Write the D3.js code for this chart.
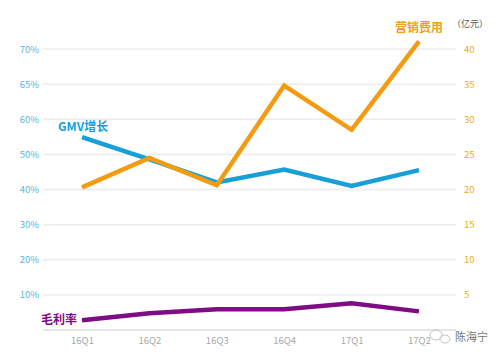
<!DOCTYPE html>
<html><head><meta charset="utf-8">
<script src="https://cdn.jsdelivr.net/npm/d3@7"></script>
<style>body{margin:0;background:#fff}svg{display:block}text{font-family:"Noto Sans CJK SC","Noto Sans",sans-serif}</style>
</head><body><svg id="c" width="504" height="357"></svg>
<script>
const categories = ["16Q1","16Q2","16Q3","16Q4","17Q1","17Q2"];
const gmvGrowth = [54.9, 48.6, 42.0, 45.7, 41.0, 45.5];      // %
const marketing = [20.3, 24.5, 20.6, 34.8, 28.5, 41.1];       // 亿元
const grossMargin = [2.8, 4.8, 5.9, 5.9, 7.6, 5.3];           // %
const leftTicks = [10, 20, 30, 40, 50, 60, 65, 70];
const rightTicks = [5, 10, 15, 20, 25, 30, 35, 40];

const svg = d3.select("#c");
const plotTop = 49, plotBottom = 330, plotLeft = 43, plotRight = 456;
const x = d3.scalePoint().domain(categories).range([82, 419]);
const yR = d3.scaleLinear().domain([0, 40]).range([plotBottom, plotTop]);
// left axis has uneven labels at even spacing
const yL = d3.scaleLinear().domain([0, 10, 20, 30, 40, 50, 60, 65, 70])
  .range([0, 5, 10, 15, 20, 25, 30, 35, 40].map(v => yR(v)));

// gridlines
svg.append("g").selectAll("line").data(rightTicks).join("line")
  .attr("x1", plotLeft).attr("x2", plotRight)
  .attr("y1", d => yR(d)).attr("y2", d => yR(d))
  .attr("stroke", "#ececec").attr("stroke-width", 1.5);
svg.append("line").attr("x1", plotLeft).attr("x2", plotRight)
  .attr("y1", plotBottom).attr("y2", plotBottom).attr("stroke", "#dcdcdc").attr("stroke-width", 1.5);

// left axis
const la = d3.axisLeft(yL).tickValues(leftTicks).tickFormat(d => d + "%").tickSize(0).tickPadding(0);
svg.append("g").attr("transform", "translate(39,0)").call(la)
  .call(g => g.select(".domain").remove())
  .selectAll("text").attr("fill", "#5ab6dc").attr("font-size", 9.5).attr("font-family", "Liberation Sans, sans-serif");

// right axis
const ra = d3.axisRight(yR).tickValues(rightTicks).tickSize(0).tickPadding(0);
svg.append("g").attr("transform", "translate(464,0)").call(ra)
  .call(g => g.select(".domain").remove())
  .selectAll("text").attr("fill", "#e3b01a").attr("font-size", 9.5).attr("font-family", "Liberation Sans, sans-serif");

// x axis
const xa = d3.axisBottom(x).tickSize(0).tickPadding(0);
svg.append("g").attr("transform", "translate(0,337)").call(xa)
  .call(g => g.select(".domain").remove())
  .selectAll("text").attr("fill", "#a8a8a8").attr("font-size", 9.5).attr("font-family", "Liberation Sans, sans-serif");

// lines
function drawLine(vals, scale, color, w) {
  const line = d3.line().x((d, i) => x(categories[i])).y(d => scale(d));
  svg.append("path").datum(vals).attr("d", line).attr("fill", "none")
    .attr("stroke", color).attr("stroke-width", w).attr("stroke-linejoin", "miter").attr("stroke-linecap", "butt");
}
drawLine(gmvGrowth, yL, "#189fd8", 4.5);
drawLine(marketing, yR, "#f39c11", 4.5);
drawLine(grossMargin, yL, "#7d0c86", 4.5);

// series labels
svg.append("text").attr("x", 58).attr("y", 131).text("GMV增长")
  .attr("fill", "#189fd8").attr("font-size", 12).attr("font-weight", "bold");
svg.append("text").attr("x", 395).attr("y", 32).text("营销费用")
  .attr("fill", "#f0a010").attr("font-size", 12).attr("font-weight", "bold");
svg.append("text").attr("x", 452).attr("y", 27).text("（亿元）")
  .attr("fill", "#555").attr("font-size", 9);
svg.append("text").attr("x", 41).attr("y", 324).text("毛利率")
  .attr("fill", "#7d0c86").attr("font-size", 12).attr("font-weight", "bold");

// watermark
const wm = svg.append("g").attr("stroke", "#c4c4c4").attr("fill", "none").attr("stroke-width", 1);
wm.append("ellipse").attr("cx", 436).attr("cy", 335).attr("rx", 6).attr("ry", 5);
wm.append("ellipse").attr("cx", 445).attr("cy", 339).attr("rx", 5).attr("ry", 4);
svg.append("text").attr("x", 455).attr("y", 341).text("陈海宁")
  .attr("fill", "#777").attr("font-size", 11);
</script></body></html>
